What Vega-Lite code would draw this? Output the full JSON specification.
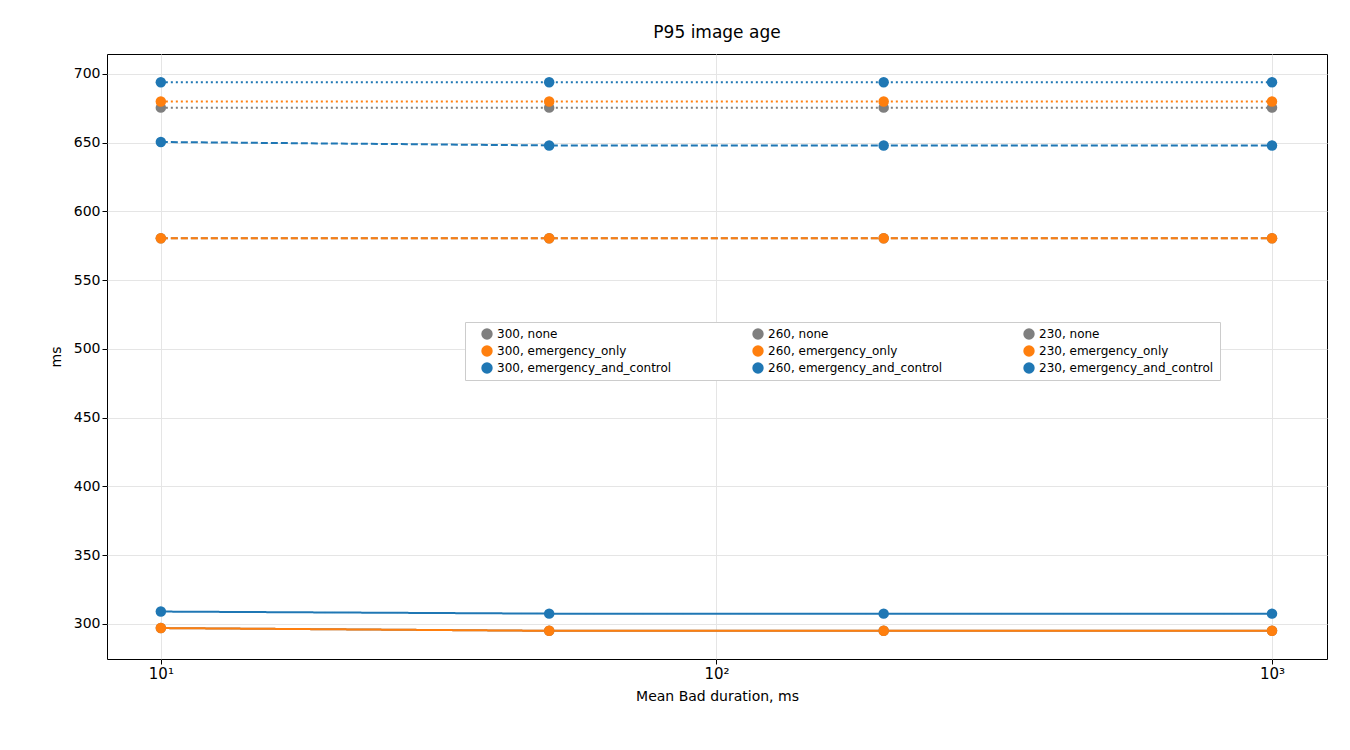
{
"$schema":"https://vega.github.io/schema/vega-lite/v6.json",
"width":1220,"height":605,
"autosize":"none",
"padding":{"left":107,"top":54,"right":23,"bottom":91},
"background":"white",
"title":{"text":"P95 image age","font":"DejaVu Sans","fontSize":17,"fontWeight":"normal","offset":12},
"config":{"font":"DejaVu Sans","view":{"stroke":"black","strokeWidth":1}},
"data":{"values":[
{"s":"300, none","x":10,"y":297},{"s":"300, none","x":50,"y":295},{"s":"300, none","x":200,"y":295},{"s":"300, none","x":1000,"y":295},
{"s":"260, none","x":10,"y":580.5},{"s":"260, none","x":50,"y":580.5},{"s":"260, none","x":200,"y":580.5},{"s":"260, none","x":1000,"y":580.5},
{"s":"230, none","x":10,"y":675.5},{"s":"230, none","x":50,"y":675.5},{"s":"230, none","x":200,"y":675.5},{"s":"230, none","x":1000,"y":675.5},
{"s":"300, emergency_only","x":10,"y":297},{"s":"300, emergency_only","x":50,"y":295},{"s":"300, emergency_only","x":200,"y":295},{"s":"300, emergency_only","x":1000,"y":295},
{"s":"260, emergency_only","x":10,"y":580.5},{"s":"260, emergency_only","x":50,"y":580.5},{"s":"260, emergency_only","x":200,"y":580.5},{"s":"260, emergency_only","x":1000,"y":580.5},
{"s":"230, emergency_only","x":10,"y":680},{"s":"230, emergency_only","x":50,"y":680},{"s":"230, emergency_only","x":200,"y":680},{"s":"230, emergency_only","x":1000,"y":680},
{"s":"300, emergency_and_control","x":10,"y":309},{"s":"300, emergency_and_control","x":50,"y":307.5},{"s":"300, emergency_and_control","x":200,"y":307.5},{"s":"300, emergency_and_control","x":1000,"y":307.5},
{"s":"260, emergency_and_control","x":10,"y":650.5},{"s":"260, emergency_and_control","x":50,"y":648},{"s":"260, emergency_and_control","x":200,"y":648},{"s":"260, emergency_and_control","x":1000,"y":648},
{"s":"230, emergency_and_control","x":10,"y":694},{"s":"230, emergency_and_control","x":50,"y":694},{"s":"230, emergency_and_control","x":200,"y":694},{"s":"230, emergency_and_control","x":1000,"y":694}
]},
"mark":{"type":"line","strokeWidth":2,"point":{"size":110,"filled":true,"opacity":1}},
"encoding":{
"x":{"field":"x","type":"quantitative","scale":{"type":"log","domain":[8.0,1256],"nice":false},
 "axis":{"title":"Mean Bad duration, ms","titleFontSize":14,"titleFontWeight":"normal","titlePadding":8,"values":[10,100,1000],"labelExpr":"datum.value==10?'10¹':datum.value==100?'10²':'10³'","labelFontSize":15,"labelColor":"black","tickColor":"black","domain":false,"gridColor":"#e5e5e5"}},
"y":{"field":"y","type":"quantitative","scale":{"domain":[274.5,714.5],"nice":false,"zero":false},
 "axis":{"title":"ms","titleFontSize":14,"titleFontWeight":"normal","values":[300,350,400,450,500,550,600,650,700],"labelFontSize":14,"labelColor":"black","tickColor":"black","domain":false,"gridColor":"#e5e5e5","titlePadding":10}},
"color":{"field":"s","type":"nominal","sort":null,
 "scale":{"domain":["300, none","300, emergency_only","300, emergency_and_control","260, none","260, emergency_only","260, emergency_and_control","230, none","230, emergency_only","230, emergency_and_control"],
 "range":["#7f7f7f","#ff7f0e","#1f77b4","#7f7f7f","#ff7f0e","#1f77b4","#7f7f7f","#ff7f0e","#1f77b4"]},
 "legend":{"title":null,"orient":"none","direction":"vertical","legendX":358,"legendY":268,"columns":3,"columnPadding":70,"labelFontSize":12,"labelLimit":300,"symbolType":"circle","symbolSize":130,"symbolStrokeWidth":0,"fillColor":"white","strokeColor":"#cccccc","padding":6,"rowPadding":5,"symbolOffset":10}},
"strokeDash":{"field":"s","type":"nominal","sort":null,
 "scale":{"domain":["300, none","300, emergency_only","300, emergency_and_control","260, none","260, emergency_only","260, emergency_and_control","230, none","230, emergency_only","230, emergency_and_control"],
 "range":[[1,0],[1,0],[1,0],[7,3],[7,3],[7,3],[2,3],[2,3],[2,3]]},"legend":null}
}
}
